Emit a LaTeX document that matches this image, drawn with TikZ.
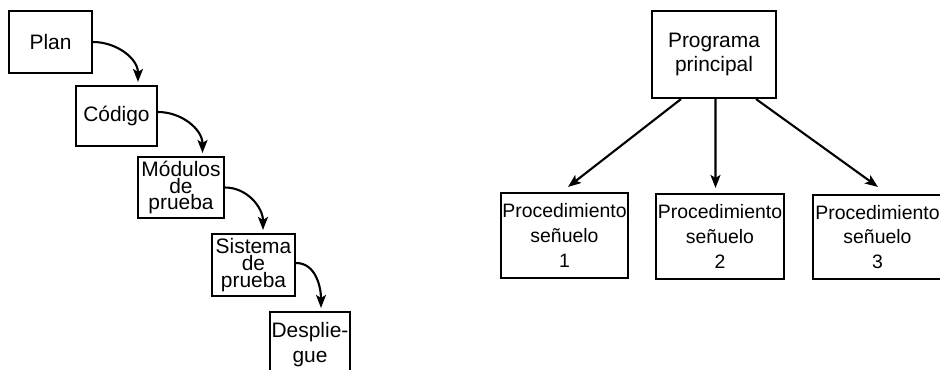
\documentclass[tikz,border=0pt]{standalone}
\usepackage{fontspec}
\setmainfont{Liberation Sans}
\usetikzlibrary{arrows.meta}
\begin{document}
\begin{tikzpicture}[x=1bp,y=-1bp,
  box/.style={draw, line width=2.1bp, inner sep=0pt, align=center},
  lfont/.style={font=\fontsize{21}{17}\selectfont},
  arr/.style={line width=2.1bp, -{Stealth[length=13bp,width=10bp,inset=3bp]}}]
\useasboundingbox (0,0) rectangle (940,369);
\clip (0,0) rectangle (940,369);
% left chain
\node[box,lfont,minimum width=83bp,minimum height=62bp] (plan) at (50.5,42) {Plan};
\node[box,lfont,minimum width=81bp,minimum height=60bp] (codigo) at (116.5,116) {Código};
\node[box,lfont,minimum width=86bp,minimum height=61bp] (mod) at (181,187.5) {Módulos\\de\\prueba};
\node[box,lfont,minimum width=83bp,minimum height=62bp] (sis) at (253.5,265) {Sistema\\de\\prueba};
\node[box,font=\fontsize{21}{25}\selectfont,minimum width=80bp,minimum height=65bp] (desp) at (310,344.5) {Desplie-\\gue};
\draw[arr] (plan.east) to[out=0,in=90] ([xshift=21.5bp,yshift=3bp]codigo.north);
\draw[arr] ([yshift=4bp]codigo.east) to[out=0,in=90] ([xshift=21.5bp,yshift=3bp]mod.north);
\draw[arr] (mod.east) to[out=0,in=90] ([xshift=9.5bp,yshift=3bp]sis.north);
\draw[arr] ([yshift=2bp]sis.east) to[out=0,in=90] ([xshift=11bp,yshift=3bp]desp.north);
% right tree
\node[box,font=\fontsize{21}{24}\selectfont,minimum width=124bp,minimum height=87bp] (prog) at (714,54.5) {Programa\\principal};
\node[box,font=\fontsize{19.5}{25}\selectfont,minimum width=127bp,minimum height=85bp] (p1) at (564.5,235.5) {Procedimiento\\señuelo\\1};
\node[box,font=\fontsize{19.5}{25}\selectfont,minimum width=128bp,minimum height=85bp] (p2) at (720,236.5) {Procedimiento\\señuelo\\2};
\node[box,font=\fontsize{19.5}{25}\selectfont,minimum width=129bp,minimum height=84bp] (p3) at (877.5,237) {Procedimiento\\señuelo\\3};
\draw[arr] ([xshift=-33bp]prog.south) -- ([xshift=3.5bp,yshift=5bp]p1.north);
\draw[arr] ([xshift=1.5bp]prog.south) -- ([xshift=-4.5bp,yshift=5bp]p2.north);
\draw[arr] ([xshift=42bp]prog.south) -- ([xshift=0.5bp,yshift=7bp]p3.north);
\end{tikzpicture}
\end{document}
